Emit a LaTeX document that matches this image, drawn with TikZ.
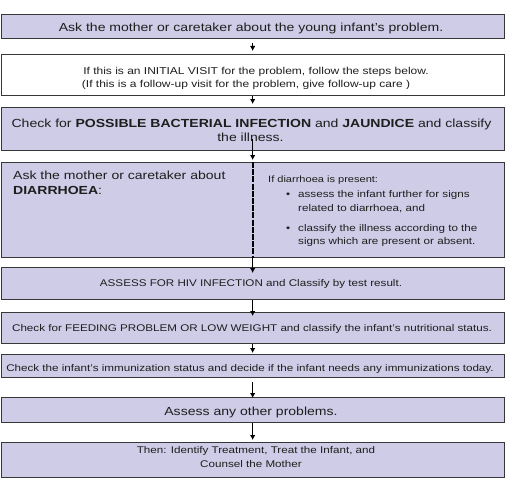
\documentclass[tikz,border=0pt]{standalone}
\usepackage{fontspec}
\setmainfont{Liberation Sans}[FakeStretch=1.2]
\usetikzlibrary{arrows.meta}
\definecolor{boxfill}{RGB}{206,204,230}
\definecolor{boxline}{RGB}{55,55,55}
\definecolor{txt}{RGB}{30,30,30}
\begin{document}
\begin{tikzpicture}[x=1pt,y=-1pt,
  stepbox/.style={draw=boxline, line width=1.1pt, fill=boxfill, minimum width=503pt,
    inner sep=0pt, anchor=north west},
  lbl/.style={inner sep=0pt, anchor=base, text=txt},
  lbll/.style={inner sep=0pt, anchor=base west, text=txt},
  big/.style={font=\fontsize{11.7}{14}\selectfont},
  mid/.style={font=\fontsize{10}{12}\selectfont},
  small/.style={font=\fontsize{9.7}{12}\selectfont},
  head/.style={font=\fontsize{9.2}{11}\selectfont},
  flow/.style={line width=1.6pt, -{Latex[length=5pt,width=5.5pt]}},
]
\useasboundingbox (0,0) rectangle (510,484);
% boxes
\node[stepbox, minimum height=24pt] (b1) at (0.6,14) {};
\node[stepbox, fill=white, minimum height=41pt] (b2) at (0.6,54) {};
\node[stepbox, minimum height=43pt] (b3) at (0.6,107) {};
\node[stepbox, minimum height=95pt] (b4) at (0.6,162) {};
\node[stepbox, minimum height=32pt] (b5) at (0.6,267) {};
\node[stepbox, minimum height=31pt] (b6) at (0.6,312) {};
\node[stepbox, minimum height=23pt] (b7) at (0.6,354) {};
\node[stepbox, minimum height=25pt] (b8) at (0.6,397) {};
\node[stepbox, minimum height=35pt] (b9) at (0.6,442) {};
% texts
\node[lbl, big] (t1) at (251,32) {Ask the mother or caretaker about the young infant's problem.};
\node[lbl, mid] (t2a) at (256,75) {If this is an INITIAL VISIT for the problem, follow the steps below.};
\node[lbl, mid] (t2b) at (246,88) {(If this is a follow-up visit for the problem, give follow-up care )};
\node[lbl, big] (t3a) at (251.5,127) {Check for \textbf{POSSIBLE BACTERIAL INFECTION} and \textbf{JAUNDICE} and classify};
\node[lbl, big] (t3b) at (250.5,141) {the illness.};
\node[lbll, big] (t4a) at (13,179) {Ask the mother or caretaker about};
\node[lbll, big] (t4b) at (13,194) {\textbf{DIARRHOEA}:};
\node[lbll, head] (t4c) at (268,182) {If diarrhoea is present:};
\node[lbll, small] (u1) at (286,197) {•};
\node[lbll, small] (t4d) at (298,197) {assess the infant further for signs};
\node[lbll, small] (t4e) at (298,211) {related to diarrhoea, and};
\node[lbll, small] (u2) at (286,231) {•};
\node[lbll, small] (t4f) at (298,231) {classify the illness according to the};
\node[lbll, small] (t4g) at (298,244) {signs which are present or absent.};
\node[lbl, small] (t5) at (251,286) {ASSESS FOR HIV INFECTION and Classify by test result.};
\node[lbl, small] (t6) at (252,331) {Check for FEEDING PROBLEM OR LOW WEIGHT and classify the infant's nutritional status.};
\node[lbl, small] (t7) at (250,371) {Check the infant's immunization status and decide if the infant needs any immunizations today.};
\node[lbl, big] (t8) at (251,415) {Assess any other problems.};
\node[lbl, small] (t9a) at (256,453) {Then: Identify Treatment, Treat the Infant, and};
\node[lbl, small] (t9b) at (251,467) {Counsel the Mother};
% connectors
\draw[flow] ([yshift=-4pt]b1.south) -- ([yshift=3pt]b2.north);
\draw[flow] (b2.south) -- ([yshift=3pt]b3.north);
\draw[flow] ([yshift=12pt]b3.south) -- ([yshift=2pt]b4.north);
\draw[line width=1.8pt, dash pattern=on 6pt off 1.2pt] (b4.north) -- (b4.south);
\draw[flow] (b4.south) -- ([yshift=-6pt]b5.north);
\draw[flow] (b5.south) -- ([yshift=-4pt]b6.north);
\draw[flow] (b6.south) -- ([yshift=1pt]b7.north);
\draw[flow] ([yshift=-4pt]b7.south) -- ([yshift=-1pt]b8.north);
\draw[flow] (b8.south) -- ([yshift=2pt]b9.north);
\end{tikzpicture}
\end{document}
